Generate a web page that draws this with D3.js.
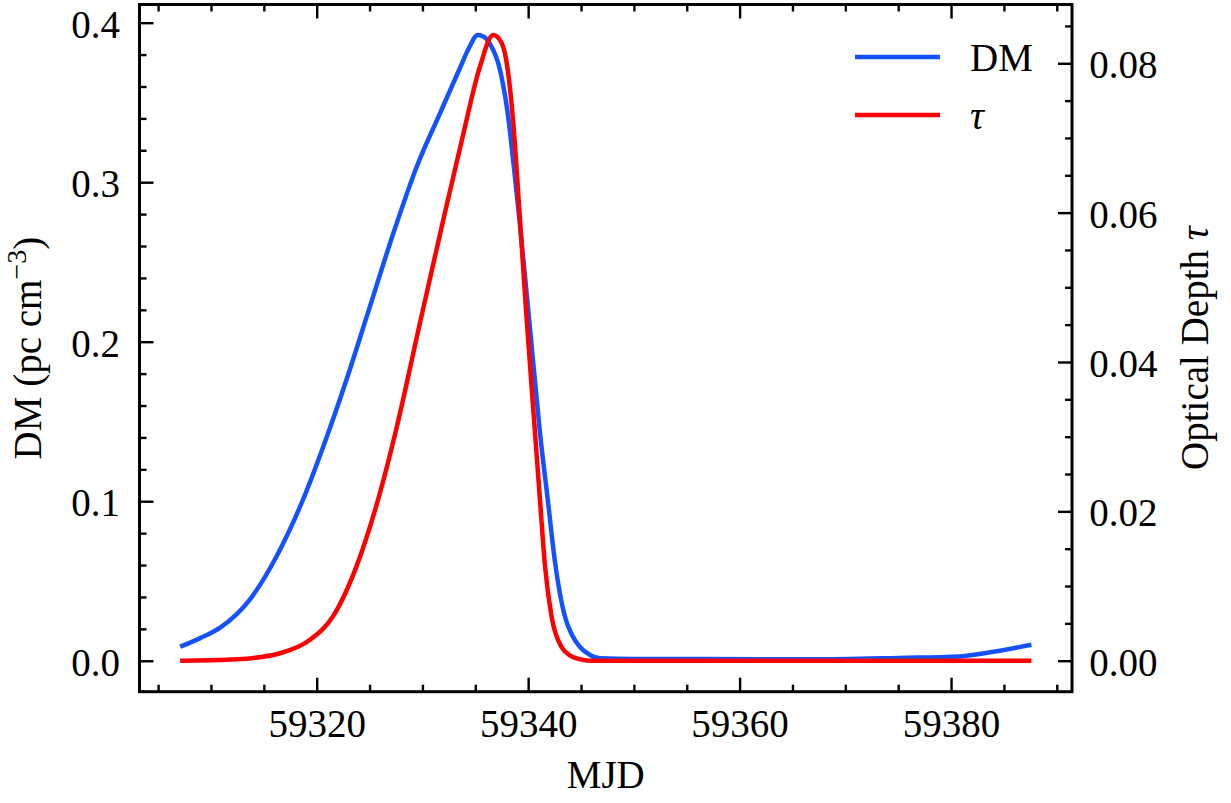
<!DOCTYPE html>
<html>
<head>
<meta charset="utf-8">
<script src="https://cdn.jsdelivr.net/npm/d3@7"></script>
<style>
  html, body { margin: 0; padding: 0; background: #fff; }
  svg { display: block; }
  text { font-family: "Liberation Serif", "Times New Roman", serif; fill: #000; }
</style>
</head>
<body>
<svg id="chart" width="1231" height="803"></svg>
<script>
// ---- data ----
const dmMJD = [59307.09, 59308.98, 59310.87, 59313.71, 59316.22, 59318.73, 59320.62, 59322.84, 59324.73,
  59327.25, 59329.46, 59331.66, 59333.55, 59334.40, 59335.23, 59335.83, 59336.39, 59337.34, 59338.09, 59338.66, 59339.18,
  59340.18, 59341.12, 59341.88, 59342.54, 59343.49, 59344.15, 59344.90, 59345.85, 59346.79,
  59350.0, 59356.2, 59366.6, 59375.1, 59380.8, 59384.0, 59387.6];
const dmValues = [0.0088, 0.0142, 0.0208, 0.0387, 0.0657, 0.1014, 0.1342, 0.1766, 0.2157,
  0.2680, 0.3097, 0.3432, 0.3716, 0.3841, 0.3923, 0.3911, 0.3867, 0.3704, 0.3421, 0.3089, 0.2763,
  0.2080, 0.1428, 0.0995, 0.0619, 0.0274, 0.0161, 0.0086, 0.0036, 0.0015,
  0.0011, 0.0011, 0.0009, 0.0018, 0.0027, 0.0056, 0.0100];

const tauMJD = [59307.09, 59312.44, 59316.53, 59319.37, 59321.57, 59323.78, 59325.67, 59327.56, 59329.76,
  59331.97, 59333.86, 59335.43, 59336.69, 59337.34, 59337.81, 59338.19, 59338.57, 59339.23, 59339.84,
  59340.65, 59341.12, 59341.60, 59342.23, 59343.17, 59343.86, 59344.59, 59345.85, 59350.0, 59365.0, 59387.6];
const tauValues = [0.0000, 0.0002, 0.0010, 0.0028, 0.0060, 0.0127, 0.0209, 0.0312, 0.0452,
  0.0590, 0.0705, 0.0795, 0.0838, 0.0831, 0.0813, 0.0778, 0.0724, 0.0590, 0.0461,
  0.0305, 0.0215, 0.0126, 0.0058, 0.0018, 0.0008, 0.0003, 0.0000, 0.0000, 0.0000, 0.0000];

const xMajorTicks = [59320, 59340, 59360, 59380];
const xMinorTicks = [59305, 59310, 59315, 59325, 59330, 59335, 59345, 59350, 59355, 59365, 59370, 59375, 59385, 59390];
const dmMajorTicks = [0.0, 0.1, 0.2, 0.3, 0.4];
const dmMinorTicks = [0.02, 0.04, 0.06, 0.08, 0.12, 0.14, 0.16, 0.18, 0.22, 0.24, 0.26, 0.28, 0.32, 0.34, 0.36, 0.38];
const tauMajorTicks = [0.00, 0.02, 0.04, 0.06, 0.08];
const tauMinorTicks = [0.005, 0.01, 0.015, 0.025, 0.03, 0.035, 0.045, 0.05, 0.055, 0.065, 0.07, 0.075, 0.085];

const seriesNames = ["DM", "τ"];

// ---- layout ----
const L = 139.5, R = 1072, T = 4.5, B = 691.7;
const FS = 39;
const blue = "#1552ff", red = "#ff0000";

const svg = d3.select("#chart");
const x = d3.scaleLinear().domain([59303.24, 59391.44]).range([L, R]);
const yL = d3.scaleLinear().domain([-0.0194, 0.4114]).range([B, T]);
const yR = d3.scaleLinear().domain([-0.00415, 0.08787]).range([B, T]);

function styleAxis(g) {
  g.select(".domain").remove();
  g.selectAll(".tick line").attr("stroke", "#000").attr("stroke-width", 2.4);
  g.selectAll(".tick text").style("font-size", FS + "px").attr("fill", "#000");
}

svg.append("defs").append("clipPath").attr("id", "clip")
  .append("rect").attr("x", L).attr("y", T).attr("width", R - L).attr("height", B - T);

// bottom axis
svg.append("g").attr("transform", `translate(0,${B})`)
  .call(d3.axisBottom(x).tickValues(xMajorTicks).tickSize(-14).tickFormat(d3.format("d")))
  .call(styleAxis)
  .call(g => g.selectAll(".tick text").attr("y", 45).attr("dy", 0));
svg.append("g").attr("transform", `translate(0,${B})`)
  .call(d3.axisBottom(x).tickValues(xMinorTicks).tickSize(-7).tickFormat(""))
  .call(styleAxis);
// top axis
svg.append("g").attr("transform", `translate(0,${T})`)
  .call(d3.axisTop(x).tickValues(xMajorTicks).tickSize(-14).tickFormat(""))
  .call(styleAxis);
svg.append("g").attr("transform", `translate(0,${T})`)
  .call(d3.axisTop(x).tickValues(xMinorTicks).tickSize(-7).tickFormat(""))
  .call(styleAxis);
// left axis
svg.append("g").attr("transform", `translate(${L},0)`)
  .call(d3.axisLeft(yL).tickValues(dmMajorTicks).tickSize(-14).tickFormat(d3.format(".1f")))
  .call(styleAxis)
  .call(g => g.selectAll(".tick text").attr("x", -19.5).attr("dy", "0.37em"));
svg.append("g").attr("transform", `translate(${L},0)`)
  .call(d3.axisLeft(yL).tickValues(dmMinorTicks).tickSize(-7).tickFormat(""))
  .call(styleAxis);
// right axis
svg.append("g").attr("transform", `translate(${R},0)`)
  .call(d3.axisRight(yR).tickValues(tauMajorTicks).tickSize(-14).tickFormat(d3.format(".2f")))
  .call(styleAxis)
  .call(g => g.selectAll(".tick text").attr("x", 17.3).attr("dy", "0.37em"));
svg.append("g").attr("transform", `translate(${R},0)`)
  .call(d3.axisRight(yR).tickValues(tauMinorTicks).tickSize(-7).tickFormat(""))
  .call(styleAxis);

// lines
const dmData = dmMJD.map((m, i) => [m, dmValues[i]]);
const tauData = tauMJD.map((m, i) => [m, tauValues[i]]);
const lineDM = d3.line().x(d => x(d[0])).y(d => yL(d[1])).curve(d3.curveMonotoneX);
const lineTau = d3.line().x(d => x(d[0])).y(d => yR(d[1])).curve(d3.curveMonotoneX);

const plot = svg.append("g").attr("clip-path", "url(#clip)");
plot.append("path").datum(dmData).attr("d", lineDM)
  .attr("fill", "none").attr("stroke", blue).attr("stroke-width", 4.5).attr("stroke-linejoin", "round");
plot.append("path").datum(tauData).attr("d", lineTau)
  .attr("fill", "none").attr("stroke", red).attr("stroke-width", 4.5).attr("stroke-linejoin", "round");

// frame
svg.append("rect").attr("x", L).attr("y", T).attr("width", R - L).attr("height", B - T)
  .attr("fill", "none").attr("stroke", "#000").attr("stroke-width", 3);

// axis labels
svg.append("text").attr("x", (L + R) / 2).attr("y", 788).attr("text-anchor", "middle")
  .style("font-size", FS + "px").text("MJD");

const lab = svg.append("text").attr("transform", `translate(41,${(T + B) / 2}) rotate(-90)`)
  .attr("text-anchor", "middle").style("font-size", FS + "px");
lab.append("tspan").text("DM (pc cm");
lab.append("tspan").attr("dy", -15).style("font-size", "28px").text("−3");
lab.append("tspan").attr("dy", 15).text(")");

const rlab = svg.append("text").attr("transform", `translate(1208,${(T + B) / 2}) rotate(-90)`)
  .attr("text-anchor", "middle").style("font-size", FS + "px");
rlab.append("tspan").text("Optical Depth ");
rlab.append("tspan").style("font-style", "italic").text("τ");

// legend
const legY = [57, 115];
const leg = svg.append("g");
[blue, red].forEach((c, i) => {
  leg.append("line").attr("x1", 855).attr("x2", 940).attr("y1", legY[i]).attr("y2", legY[i])
    .attr("stroke", c).attr("stroke-width", 4.5);
  leg.append("text").attr("x", 970).attr("y", legY[i]).attr("dy", "0.36em")
    .style("font-size", FS + "px").style("font-style", i === 1 ? "italic" : "normal")
    .text(seriesNames[i]);
});
</script>
</body>
</html>
